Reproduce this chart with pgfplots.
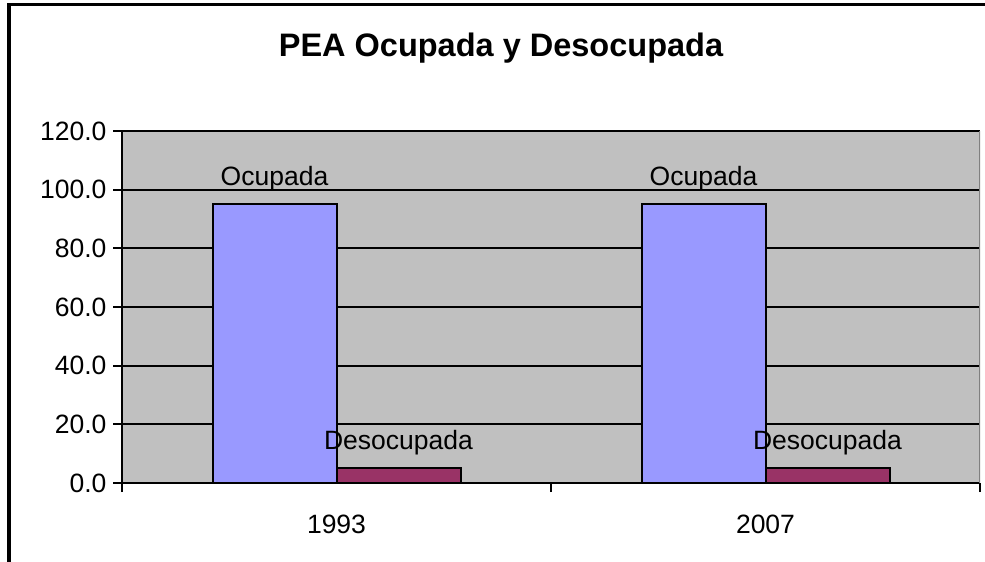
\documentclass[border=0pt]{standalone}
\usepackage{fontspec}
\setmainfont{Liberation Sans}
\usepackage{pgfplots}
\pgfplotsset{compat=1.18}
\definecolor{plotgray}{HTML}{C0C0C0}
\definecolor{ocup}{HTML}{9999FF}
\definecolor{desoc}{HTML}{993366}
\newcommand{\lblfont}{\fontsize{26.5bp}{31bp}\selectfont}
\begin{document}
\begin{tikzpicture}
\draw[line width=3.5bp] (9bp,-700bp) -- (9bp,-4.5bp) -- (1100bp,-4.5bp);
\node[anchor=base,inner sep=0pt,font=\bfseries\fontsize{32.5bp}{38bp}\selectfont] at (501bp,-56bp) {PEA Ocupada y Desocupada};
\begin{axis}[
  at={(122bp,-483bp)}, anchor=south west,
  scale only axis,
  width=858bp, height=352bp,
  xmin=0, xmax=2, ymin=0, ymax=120,
  axis background/.style={fill=plotgray},
  ybar, bar width=124bp,
  ytick={0,20,...,120},
  yticklabel style={/pgf/number format/.cd, fixed, fixed zerofill, precision=1, assume math mode=true, /tikz/.cd, font=\lblfont, xshift=-3bp},
  ymajorgrids,
  grid style={black, line width=2bp},
  xtick={0,1,2}, xticklabels={},
  extra x ticks={0.5,1.5}, extra x tick labels={1993,2007},
  extra x tick style={major tick length=0pt, xticklabel style={font=\lblfont, yshift=-28bp}},
  tick align=outside, major tick length=9bp,
  tick style={black, line width=2bp},
  axis x line*=bottom, axis y line*=left,
  axis line style={black, line width=2bp},
  nodes near coords style={anchor=base, yshift=19bp, font=\lblfont, text=black},
]
\addplot[fill=ocup, draw=black, line width=2bp, bar shift=-62bp, nodes near coords={Ocupada}] coordinates {(0.5,95.0) (1.5,95.0)};
\addplot[fill=desoc, draw=black, line width=2bp, bar shift=62bp, nodes near coords={Desocupada}] coordinates {(0.5,5.0) (1.5,5.0)};
\draw[color=gray, line width=2bp] (rel axis cs:1,0) -- (rel axis cs:1,1);
\end{axis}
\pgfresetboundingbox
\useasboundingbox (0,0) rectangle (985bp,-562bp);
\end{tikzpicture}
\end{document}
